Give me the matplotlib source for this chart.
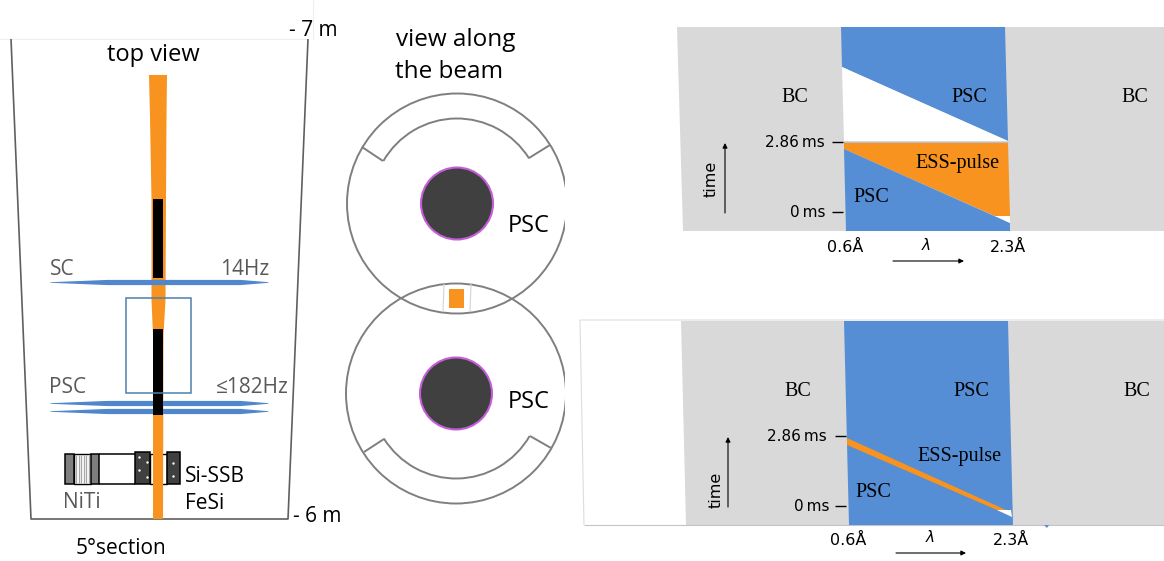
import numpy as np
import matplotlib
matplotlib.use('Agg')
import matplotlib.pyplot as plt
from matplotlib.patches import Circle, Polygon, Rectangle, Arc

ORANGE = '#f7931e'
BLUE = '#558ed5'
GREY = '#d9d9d9'
SANS = 'Open Sans'
SERIF = 'Liberation Serif'
MONO = 'DejaVu Sans'

# left panel, all in picture pixels
section_outline = [(11, 39), (31, 519), (288, 519), (308, 39)]
beam_outline = [(149, 75), (167, 75), (166.5, 117), (166, 200), (165.5, 300), (163.5, 335), (163, 519),
                (153, 519), (153, 335), (151.5, 300), (151.5, 200), (150, 117)]
black_blocks = [(199, 278), (329, 415)]
lens_rows = [282, 403, 411]
lens_x = [50, 107, 240, 268]
lens_half = [0.3, 2.6, 2.6, 0.3]
niti_blocks = [(65, 74), (91, 99)]
niti_stripes = [76, 78.5, 81, 83.5, 86, 88.5]
fesi_blocks = [(135, 150), (167, 180)]
fesi_dots = [(139, 457), (147, 462), (139, 470), (147, 477), (173, 463), (173, 476)]

# middle panel
circle_centres = [(457, 203.5), (456, 393.5)]
top_notches = [[(362, 147), (383, 161)], [(550, 145), (529, 158)]]
bottom_notches = [[(364, 452), (384, 439)], [(551, 448), (530, 436)]]

# upper time diagram
upper_grey = [(677, 27), (1164, 27), (1164, 231), (683, 231)]
upper_blue_top = [(841, 27), (1005, 27), (1008, 141), (842, 67)]
upper_white = [(842, 67), (1008, 141), (844, 141)]
upper_orange = [(844, 142), (1008, 142), (1010, 216), (995, 216), (844, 149)]
upper_blue_low = [(844, 149), (1010, 223), (1010, 231), (846, 231)]
upper_sliver = [(995, 216), (1010, 216), (1010, 223)]

# lower time diagram
lower_frame = [(584, 525), (580, 320), (1164, 320)]
lower_grey = [(681, 321), (1164, 321), (1164, 525), (686, 525)]
lower_blue = [(844, 321), (1008, 321), (1013, 525), (849, 525)]
lower_orange = [(847, 438), (1006, 510), (997, 510), (847, 445)]
lower_sliver = [(997, 510), (1011, 510), (1012, 517)]
lower_speck = [(1044, 525), (1049, 525), (1047, 528)]

fig = plt.figure(figsize=(11.64, 5.61), dpi=100)
ax = fig.add_axes([0, 0, 1, 1])
ax.set_xlim(0, 1164)
ax.set_ylim(561, 0)
ax.axis('off')


def poly(points, color, z=2, **kw):
    ax.add_patch(Polygon(points, closed=True, facecolor=color, edgecolor='none', zorder=z, **kw))


def label(x, y, s, size, family=SANS, color='black', ha='center', **kw):
    ax.text(x, y, s, fontsize=size, family=family, color=color, ha=ha, va='center', zorder=10, **kw)


def line(xs, ys, color, lw=1.0, z=3):
    ax.plot(xs, ys, color=color, lw=lw, zorder=z, solid_capstyle='butt')


def arrow(start, end):
    ax.annotate('', xy=end, xytext=start, zorder=9,
                arrowprops=dict(arrowstyle='-|>', color='black', lw=0.8, shrinkA=0, shrinkB=0, mutation_scale=7))


# left panel
line([0, 308], [39, 39], '#eeeeee', 0.8, 1)
line([313, 313], [0, 39], '#eeeeee', 0.8, 1)
xs, ys = zip(*section_outline)
line(xs, ys, '#5f5f5f', 1.2, 2)
poly(beam_outline, ORANGE, 3)
for y0, y1 in black_blocks:
    ax.add_patch(Rectangle((153, y0), 10, y1 - y0, facecolor='black', zorder=4))
ax.add_patch(Rectangle((126, 298), 65, 95, facecolor='none', edgecolor='#4f7fae', lw=1.1, zorder=5))
for row in lens_rows:
    top = [row - h for h in lens_half]
    bot = [row + h for h in lens_half]
    ax.fill_between(lens_x, top, bot, color='#4f86cc', lw=0, zorder=6 if row == 282 else 3.5)

# rotary parts at the bottom
line([99, 135], [454, 454], 'black', 1.1)
line([99, 135], [484, 484], 'black', 1.1)
for x0, x1 in niti_blocks:
    ax.add_patch(Rectangle((x0, 454), x1 - x0, 30, facecolor='#7f7f7f', edgecolor='black', lw=1.1, zorder=3))
ax.add_patch(Rectangle((74, 454), 17, 30, facecolor='white', edgecolor='black', lw=1.0, zorder=2.5))
for x in niti_stripes:
    line([x, x], [455, 483], '#a6a6a6', 0.9)
ax.add_patch(Rectangle((150, 454), 17, 30, facecolor='white', edgecolor='black', lw=1.0, zorder=2.5))
for x0, x1 in fesi_blocks:
    ax.add_patch(Rectangle((x0, 452), x1 - x0, 32, facecolor='#404040', edgecolor='black', lw=1.1, zorder=3.5))
dx, dy = zip(*fesi_dots)
ax.scatter(dx, dy, s=3, color='white', lw=0, zorder=3.6)

label(153, 55, 'top view', 17)
label(313, 30, '- 7 m', 15)
label(317, 517, '- 6 m', 15)
label(121, 549, '5°section', 15)
label(62, 269, 'SC', 15, color='#595959')
label(245, 269, '14Hz', 15, color='#595959')
label(68, 387, 'PSC', 15, color='#595959')
label(252, 387, '≤182Hz', 15, color='#595959')
label(82, 502, 'NiTi', 15, color='#595959')
label(215, 476, 'Si-SSB', 15)
label(205, 503, 'FeSi', 15)

# middle panel
for cx, cy in circle_centres:
    ax.add_patch(Circle((cx, cy), 110, facecolor='none', edgecolor='#7f7f7f', lw=1.4, zorder=3))
    ax.add_patch(Circle((cx, cy), 36, facecolor='#404040', edgecolor='#c45fd8', lw=1.5, zorder=4))
ax.add_patch(Rectangle((565, 80), 8, 440, facecolor='white', edgecolor='none', zorder=3.5))
cx, cy = circle_centres[0]
ax.add_patch(Arc((cx, cy), 170, 170, theta1=210, theta2=328, edgecolor='#7f7f7f', lw=1.4, zorder=3))
cx, cy = circle_centres[1]
ax.add_patch(Arc((cx, cy), 170, 170, theta1=30, theta2=148, edgecolor='#7f7f7f', lw=1.4, zorder=3))
for seg in top_notches + bottom_notches:
    xs, ys = zip(*seg)
    line(xs, ys, '#7f7f7f', 1.4)
line([444, 443], [284, 312], '#d4d4d4', 0.8)
line([471, 470], [284, 312], '#d4d4d4', 0.8)
ax.add_patch(Rectangle((449, 289), 15, 19, facecolor=ORANGE, edgecolor='none', zorder=5))
label(456, 40, 'view along', 17.5)
label(449, 72, 'the beam', 17.5)
label(529, 226, 'PSC', 17)
label(529, 402, 'PSC', 17)

# upper time diagram
poly(upper_grey, GREY, 1)
poly(upper_blue_top, BLUE)
poly(upper_white, 'white')
poly(upper_orange, ORANGE)
poly(upper_blue_low, BLUE)
poly(upper_sliver, 'white')
line([844, 1008], [142, 142], '#bdbdbd', 0.8)
label(795, 97, 'BC', 14.5, SERIF)
label(1135, 97, 'BC', 14.5, SERIF)
label(969, 97, 'PSC', 14.5, SERIF)
label(957, 163, 'ESS-pulse', 14.5, SERIF)
label(871, 197, 'PSC', 14.5, SERIF)
label(825, 142, '2.86\u2009ms', 11, MONO, ha='right')
label(826, 212, '0\u2009ms', 11, MONO, ha='right')
line([832, 843], [142, 142], 'black', 1)
line([832, 843], [212, 212], 'black', 1)
label(711, 179, 'time', 11.5, MONO, rotation=90)
arrow((725, 213), (725, 143))
label(845, 247, '0.6Å', 11.5, MONO)
label(926, 245, 'λ', 11, MONO, style='italic')
label(1008, 247, '2.3Å', 11.5, MONO)
arrow((893, 261), (964, 261))

# lower time diagram
xs, ys = zip(*lower_frame)
line(xs, ys, '#dddddd', 0.8, 1)
poly(lower_grey, GREY, 1)
poly(lower_blue, BLUE)
poly(lower_orange, ORANGE)
poly(lower_sliver, 'white')
poly(lower_speck, BLUE)
line([584, 1164], [525, 525], '#c4c4c4', 0.8, 1)
label(798, 391, 'BC', 14.5, SERIF)
label(971, 391, 'PSC', 14.5, SERIF)
label(1137, 391, 'BC', 14.5, SERIF)
label(960, 456, 'ESS-pulse', 14.5, SERIF)
label(873, 492, 'PSC', 14.5, SERIF)
label(827, 436, '2.86\u2009ms', 11, MONO, ha='right')
label(829, 506, '0\u2009ms', 11, MONO, ha='right')
line([835, 846], [436, 436], 'black', 1)
line([835, 846], [506, 506], 'black', 1)
label(716, 490, 'time', 11.5, MONO, rotation=90)
arrow((728, 507), (728, 437))
label(848, 540, '0.6Å', 11.5, MONO)
label(930, 537, 'λ', 11, MONO, style='italic')
label(1011, 540, '2.3Å', 11.5, MONO)
arrow((896, 553), (966, 553))

fig.savefig('out.png', dpi=100)
